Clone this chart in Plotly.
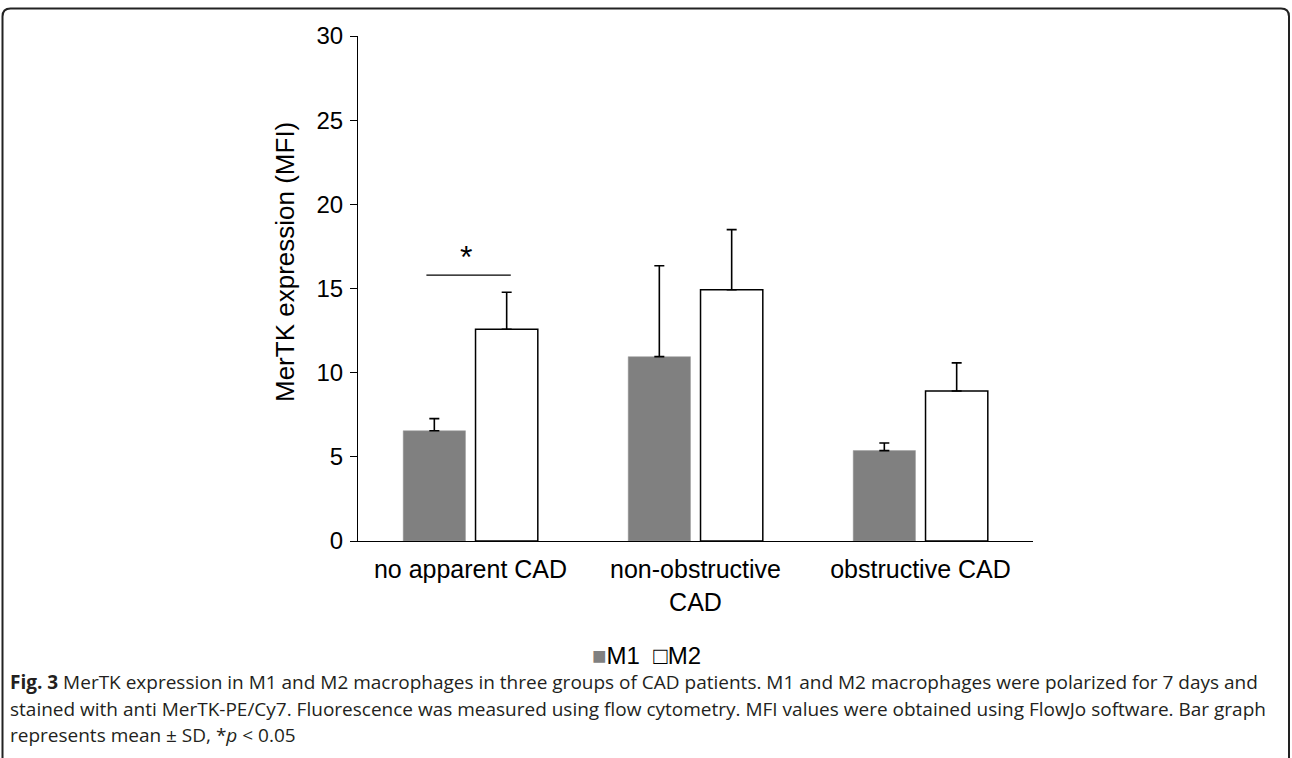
import plotly.graph_objects as go

categories = ["no apparent CAD", "non-obstructive<br>CAD", "obstructive CAD"]
series_names = ["M1", "M2"]
m1_values = [6.55, 10.95, 5.37]
m1_sd = [0.72, 5.4, 0.45]
m2_values = [12.58, 14.93, 8.91]
m2_sd = [2.2, 3.57, 1.67]
y_ticks = [0, 5, 10, 15, 20, 25, 30]
y_title = "MerTK expression (MFI)"
caption = [
    "<b>Fig. 3</b> MerTK expression in M1 and M2 macrophages in three groups of CAD patients. M1 and M2 macrophages were polarized for 7 days and",
    "stained with anti MerTK-PE/Cy7. Fluorescence was measured using flow cytometry. MFI values were obtained using FlowJo software. Bar graph",
    "represents mean ± SD, *<i>p</i> &lt; 0.05",
]

W, H = 1292, 758
L, R, T, B = 358, 1033, 36, 541


def px(x):
    return (x - L) / (R - L)


def py(y):
    return (B - y) / (B - T)


fig = go.Figure()
fig.add_trace(go.Bar(
    name=series_names[0], x=categories, y=m1_values, showlegend=False,
    marker=dict(color="#808080", line=dict(color="#9a9a9a", width=0.5)),
    error_y=dict(type="data", array=m1_sd, symmetric=False, arrayminus=[0, 0, 0],
                 color="black", thickness=1.6, width=5),
))
fig.add_trace(go.Bar(
    name=series_names[1], x=categories, y=m2_values, showlegend=False,
    marker=dict(color="white", line=dict(color="black", width=1.5)),
    error_y=dict(type="data", array=m2_sd, symmetric=False, arrayminus=[0, 0, 0],
                 color="black", thickness=1.6, width=5),
))

# significance bracket
fig.add_shape(type="line", xref="x", yref="y", x0=-0.196, x1=0.179, y0=15.8, y1=15.8,
              line=dict(color="black", width=1.2))
fig.add_annotation(x=-0.02, y=16.9, xref="x", yref="y", text="*", showarrow=False,
                   font=dict(family="Liberation Sans", size=32, color="black"))

# y-axis title
fig.add_annotation(x=px(285), y=py(262), xref="paper", yref="paper", text=y_title,
                   textangle=-90, showarrow=False, xanchor="center", yanchor="middle",
                   font=dict(family="Liberation Sans", size=26, color="black"))

# legend
fig.add_annotation(x=px(646), y=py(655), xref="paper", yref="paper",
                   text=(f"<span style='color:#808080'>■</span>{series_names[0]}&nbsp;&nbsp;"
                         f"□{series_names[1]}"),
                   showarrow=False, xanchor="center", yanchor="middle",
                   font=dict(family="Liberation Sans", size=24, color="black"))

# frame around figure
r = 8
x0, y0, x1, y1 = 2.5, 8.5, 1289, 770
path = (f"M {px(x0)} {py(y1)} L {px(x0)} {py(y0 + r)} "
        f"Q {px(x0)} {py(y0)} {px(x0 + r)} {py(y0)} "
        f"L {px(x1 - r)} {py(y0)} Q {px(x1)} {py(y0)} {px(x1)} {py(y0 + r)} "
        f"L {px(x1)} {py(y1)}")
fig.add_shape(type="path", xref="paper", yref="paper", path=path,
              line=dict(color="#222222", width=2))

for i, line in enumerate(caption):
    fig.add_annotation(x=px(8), y=py(682 + 26.5 * i), xref="paper", yref="paper",
                       xanchor="left", yanchor="middle", text=line, showarrow=False,
                       font=dict(family="Open Sans", size=19, color="#231f20"))

fig.update_layout(
    width=W, height=H,
    margin=dict(l=L, r=W - R, t=T, b=H - B),
    paper_bgcolor="white", plot_bgcolor="white",
    barmode="group", bargap=0.357, bargroupgap=0.139,
    font=dict(family="Liberation Sans", size=24, color="black"),
    showlegend=False,
    xaxis=dict(showline=True, linecolor="black", linewidth=1.2, ticks="",
               tickfont=dict(size=25), showgrid=False, ticklabelstandoff=6),
    yaxis=dict(range=[0, 30], tickvals=y_ticks, showline=True, linecolor="black",
               linewidth=1.2, ticks="outside", ticklen=7, tickcolor="black",
               showgrid=False, zeroline=False, tickfont=dict(size=24),
               ticklabelstandoff=2),
)

fig.write_html("out.html", config={"displayModeBar": False},
               post_script="document.body.style.margin='0px';")
